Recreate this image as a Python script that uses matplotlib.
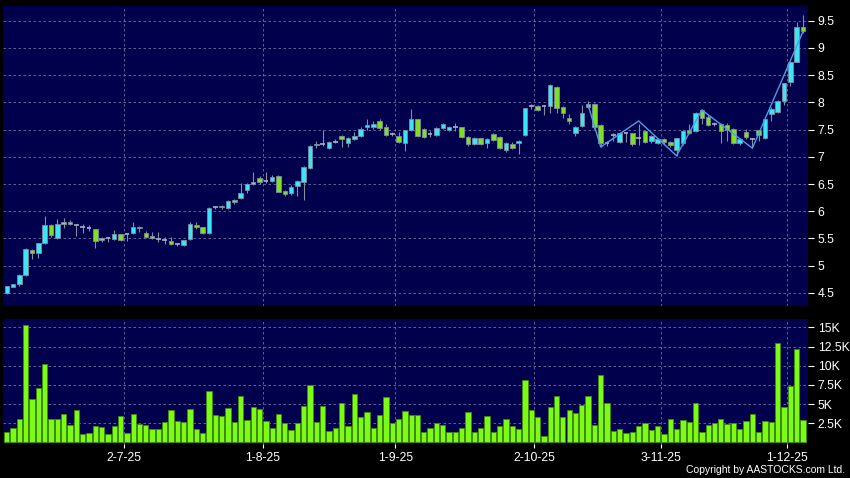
import numpy as np
import matplotlib
matplotlib.use("Agg")
import matplotlib.pyplot as plt

plt.rcParams["font.family"] = ["Liberation Sans", "DejaVu Sans"]

# daily OHLC (127 trading days)
opens = [4.49, 4.61, 4.66, 4.83, 5.28, 5.23, 5.41, 5.74, 5.50, 5.77,
         5.80, 5.74, 5.72, 5.70, 5.67, 5.47, 5.50, 5.49, 5.58, 5.59,
         5.60, 5.72, 5.61, 5.55, 5.49, 5.48, 5.45, 5.40, 5.38, 5.49,
         5.75, 5.71, 5.60, 6.07, 6.07, 6.06, 6.21, 6.25, 6.39, 6.51,
         6.61, 6.56, 6.55, 6.65, 6.38, 6.33, 6.47, 6.53, 6.80, 7.22,
         7.23, 7.17, 7.28, 7.38, 7.26, 7.33, 7.38, 7.55, 7.55, 7.66,
         7.54, 7.42, 7.38, 7.26, 7.49, 7.69, 7.51, 7.42, 7.40, 7.53,
         7.49, 7.54, 7.54, 7.37, 7.23, 7.34, 7.25, 7.42, 7.37, 7.13,
         7.24, 7.25, 7.40, 7.93, 7.93, 7.94, 7.94, 8.29, 7.91, 7.72,
         7.44, 7.57, 7.91, 7.97, 7.58, 7.26, 7.41, 7.28, 7.43, 7.43,
         7.34, 7.47, 7.29, 7.26, 7.33, 7.28, 7.12, 7.25, 7.50, 7.48,
         7.86, 7.74, 7.61, 7.60, 7.58, 7.51, 7.25, 7.45, 7.33, 7.49,
         7.35, 7.79, 7.82, 8.03, 8.37, 8.75, 9.38]
highs = [4.63, 4.67, 4.84, 5.33, 5.30, 5.42, 5.91, 5.76, 5.85, 5.88,
         5.84, 5.75, 5.77, 5.74, 5.68, 5.53, 5.52, 5.66, 5.59, 5.60,
         5.80, 5.73, 5.63, 5.62, 5.62, 5.52, 5.53, 5.42, 5.48, 5.80,
         5.80, 5.72, 6.07, 6.09, 6.12, 6.21, 6.23, 6.52, 6.52, 6.72,
         6.64, 6.72, 6.66, 6.66, 6.40, 6.48, 6.58, 6.83, 7.22, 7.30,
         7.50, 7.30, 7.33, 7.40, 7.37, 7.45, 7.55, 7.70, 7.66, 7.70,
         7.60, 7.46, 7.45, 7.50, 7.88, 7.70, 7.53, 7.47, 7.55, 7.62,
         7.56, 7.62, 7.55, 7.38, 7.36, 7.35, 7.34, 7.44, 7.38, 7.27,
         7.27, 7.31, 7.90, 7.97, 7.95, 7.96, 8.33, 8.30, 7.93, 7.78,
         7.56, 7.96, 8.02, 7.99, 7.60, 7.30, 7.44, 7.45, 7.46, 7.44,
         7.60, 7.48, 7.40, 7.35, 7.35, 7.30, 7.35, 7.49, 7.60, 7.82,
         7.88, 7.76, 7.64, 7.63, 7.62, 7.53, 7.35, 7.52, 7.35, 7.50,
         7.70, 7.92, 8.05, 8.36, 8.76, 9.47, 9.60]
lows = [4.48, 4.60, 4.62, 4.82, 5.13, 5.15, 5.40, 5.52, 5.49, 5.70,
        5.75, 5.55, 5.60, 5.63, 5.33, 5.44, 5.44, 5.48, 5.45, 5.46,
        5.59, 5.62, 5.50, 5.49, 5.44, 5.40, 5.38, 5.37, 5.37, 5.48,
        5.68, 5.59, 5.59, 6.04, 6.05, 6.05, 6.14, 6.22, 6.34, 6.48,
        6.50, 6.52, 6.53, 6.35, 6.28, 6.30, 6.28, 6.20, 6.78, 7.17,
        7.20, 7.14, 7.25, 7.18, 7.18, 7.31, 7.36, 7.50, 7.52, 7.50,
        7.38, 7.38, 7.25, 7.11, 7.48, 7.37, 7.35, 7.37, 7.38, 7.51,
        7.47, 7.47, 7.35, 7.19, 7.21, 7.21, 7.16, 7.29, 7.14, 7.09,
        7.15, 7.05, 7.38, 7.88, 7.84, 7.77, 7.80, 7.80, 7.72, 7.60,
        7.38, 7.55, 7.89, 7.52, 7.18, 7.20, 7.30, 7.26, 7.27, 7.20,
        7.22, 7.26, 7.26, 7.24, 7.24, 7.18, 7.02, 7.22, 7.42, 7.46,
        7.60, 7.56, 7.56, 7.25, 7.30, 7.24, 7.22, 7.33, 7.16, 7.30,
        7.33, 7.66, 7.80, 7.95, 8.30, 8.74, 9.28]
closes = [4.62, 4.66, 4.83, 5.30, 5.23, 5.41, 5.74, 5.56, 5.76, 5.80,
          5.77, 5.74, 5.72, 5.70, 5.45, 5.50, 5.50, 5.58, 5.48, 5.59,
          5.72, 5.69, 5.53, 5.50, 5.49, 5.48, 5.40, 5.40, 5.47, 5.76,
          5.71, 5.60, 6.06, 6.07, 6.09, 6.19, 6.17, 6.33, 6.50, 6.54,
          6.53, 6.56, 6.63, 6.36, 6.31, 6.45, 6.56, 6.82, 7.20, 7.24,
          7.23, 7.28, 7.28, 7.32, 7.35, 7.39, 7.52, 7.59, 7.60, 7.53,
          7.40, 7.42, 7.28, 7.49, 7.69, 7.39, 7.37, 7.42, 7.53, 7.60,
          7.54, 7.54, 7.37, 7.23, 7.34, 7.23, 7.32, 7.31, 7.16, 7.25,
          7.17, 7.29, 7.89, 7.93, 7.86, 7.94, 8.32, 7.89, 7.80, 7.65,
          7.54, 7.80, 7.97, 7.55, 7.26, 7.26, 7.41, 7.43, 7.43, 7.24,
          7.34, 7.28, 7.38, 7.33, 7.28, 7.21, 7.34, 7.48, 7.44, 7.80,
          7.72, 7.58, 7.61, 7.48, 7.50, 7.26, 7.33, 7.36, 7.33, 7.40,
          7.69, 7.88, 8.03, 8.35, 8.75, 9.39, 9.31]

# volume in thousands
volume = [1.3, 1.9, 3.1, 15.3, 5.7, 7.1, 10.2, 3.1, 3.1, 3.7,
          2.3, 4.2, 1.1, 1.2, 2.15, 2.0, 1.1, 2.15, 3.4, 1.2,
          3.7, 2.4, 2.25, 1.7, 1.75, 2.6, 4.2, 2.8, 2.6, 4.4,
          1.7, 1.2, 6.7, 3.6, 3.4, 4.5, 2.7, 6.1, 2.95, 4.6,
          4.4, 2.8, 1.9, 3.7, 2.5, 1.6, 2.5, 4.8, 7.5, 2.6,
          4.8, 1.5, 1.9, 5.2, 2.1, 6.3, 3.3, 3.9, 1.9, 3.6,
          5.9, 2.5, 3.0, 4.1, 3.6, 3.6, 1.4, 1.85, 2.5, 2.3,
          1.4, 1.4, 1.9, 4.0, 1.4, 1.9, 3.4, 1.4, 2.15, 3.1,
          2.1, 1.7, 8.2, 4.2, 3.3, 0.8, 4.6, 6.0, 3.3, 4.2,
          3.8, 4.9, 6.1, 2.3, 8.8, 5.2, 1.5, 1.75, 1.25, 1.3,
          2.15, 2.5, 1.65, 2.1, 1.1, 3.1, 1.8, 2.9, 2.6, 5.1,
          1.3, 2.3, 2.55, 3.1, 2.4, 2.55, 1.7, 2.85, 3.7, 1.3,
          2.8, 2.7, 13.0, 4.6, 7.3, 12.2, 2.9]

# zigzag overlay (bar index, price)
zz_idx = [92, 94, 100, 106, 110, 118, 126]
zz_val = [7.95, 7.18, 7.66, 7.02, 7.86, 7.16, 9.30]

date_idx = [18, 40, 61, 83, 103, 123]
date_labels = ["2-7-25", "1-8-25", "1-9-25", "2-10-25", "3-11-25", "1-12-25"]
price_ticks = [4.5, 5, 5.5, 6, 6.5, 7, 7.5, 8, 8.5, 9, 9.5]
vol_ticks = [2.5, 5, 7.5, 10, 12.5, 15]
vol_labels = ["2.5K", "5K", "7.5K", "10K", "12.5K", "15K"]

o = np.array(opens)
h = np.array(highs)
l = np.array(lows)
c = np.array(closes)
x = np.arange(len(o))

BG = "#00004c"
UP = "#3ce4f4"
DOWN = "#7ee020"
DOJI = "#a8b0c8"
GRID = "#7070a0"

fig = plt.figure(figsize=(8.5, 4.78), dpi=100, facecolor="black")
ax = fig.add_axes([3 / 850, 1 - 306 / 478, 805 / 850, 300.5 / 478])
axv = fig.add_axes([3 / 850, 1 - 443.5 / 478, 805 / 850, 124.5 / 478])

grid_pos = [d + 0.5 for d in date_idx]
for a in (ax, axv):
    a.set_facecolor(BG)
    for s in a.spines.values():
        s.set_visible(False)
    a.set_xlim(-0.6, 126.8)
    for gx in grid_pos:
        a.axvline(gx, color=GRID, lw=0.6, ls=(0, (3, 3)), zorder=0)
    a.yaxis.tick_right()
    a.tick_params(axis="y", colors="white", labelsize=8.8, length=4, width=0.8, pad=3)

# candles
ax.vlines(x, l, h, color="#8c8c9c", lw=0.8, zorder=2)
doji = np.abs(c - o) < 0.005
colors = np.where(c > o, UP, DOWN)
body = np.where(doji, 0, np.abs(c - o))
ax.bar(x[~doji], body[~doji], width=0.72, bottom=np.minimum(o, c)[~doji],
       color=colors[~doji], edgecolor="#7a8ea0", linewidth=0.6, zorder=3)
ax.hlines(c[doji], x[doji] - 0.36, x[doji] + 0.36, color=DOJI, lw=1.2, zorder=3)
ax.plot(zz_idx, zz_val, color="#4a9fe6", lw=1.0, zorder=4)

ax.set_ylim(4.26, 9.78)
ax.set_yticks(price_ticks)
ax.set_yticklabels([f"{t:g}" for t in price_ticks])
for t in price_ticks:
    ax.axhline(t, color=GRID, lw=0.6, ls=(0, (3, 3)), zorder=0)
ax.set_xticks([])

# volume
axv.bar(x, volume, width=0.84, color="#7cfc14", edgecolor="#3e8a0e",
        linewidth=0.6, zorder=3)
axv.set_ylim(-0.15, 16.1)
axv.set_yticks(vol_ticks)
axv.set_yticklabels(vol_labels)
for t in vol_ticks:
    axv.axhline(t, color=GRID, lw=0.6, ls=(0, (3, 3)), zorder=0)
axv.set_xticks(grid_pos)
axv.set_xticklabels(date_labels)
axv.tick_params(axis="x", colors="white", labelsize=8.8, length=3, width=0.8,
                pad=3, direction="out")

fig.text(0.994, 0.006, "Copyright by AASTOCKS.com Ltd.", color="white",
         fontsize=7.5, ha="right", va="bottom")

fig.savefig("out.png", dpi=100, facecolor="black")
